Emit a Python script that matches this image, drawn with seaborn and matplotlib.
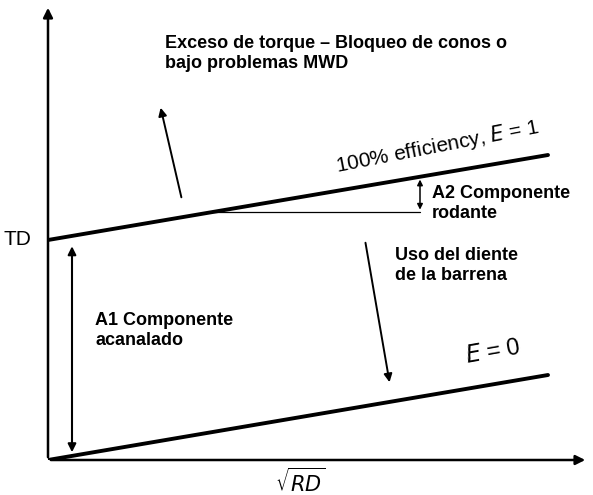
import numpy as np
import pandas as pd
import matplotlib
matplotlib.use("Agg")
import matplotlib.pyplot as plt
import seaborn as sns

# datos del diagrama (unidades arbitrarias: raiz(RD) vs TD)
rd = [0, 10]
td_e1 = [4.4, 6.1]     # 100% efficiency, E = 1
td_e0 = [0.0, 1.7]     # E = 0
td_label = 4.4

df = pd.DataFrame({
    "rd": rd * 2,
    "td": td_e1 + td_e0,
    "curva": ["E=1"] * 2 + ["E=0"] * 2,
})

sns.set_theme(style="white")
plt.rcParams['font.family'] = ['Liberation Sans', 'DejaVu Sans']
plt.rcParams['text.color'] = 'black'

fig = plt.figure(figsize=(5.93, 4.95), dpi=100)
ax = fig.add_axes([48 / 593, 35 / 495, 540 / 593, 455 / 495])
ax.set_xlim(0, 10.8)
ax.set_ylim(0, 9.1)
ax.axis('off')

sns.lineplot(data=df, x="rd", y="td", units="curva", estimator=None,
             color="black", lw=2.8, ax=ax, legend=False)

# ejes con flechas
ax.annotate("", xy=(1, 0), xytext=(0, 0), xycoords="axes fraction",
            arrowprops=dict(arrowstyle="-|>", color="black", lw=1.8, mutation_scale=14))
ax.annotate("", xy=(0, 1), xytext=(0, 0), xycoords="axes fraction",
            arrowprops=dict(arrowstyle="-|>", color="black", lw=1.8, mutation_scale=14))

slope = (td_e1[1] - td_e1[0]) / (rd[1] - rd[0])
x_a, x_b = 3.24, 7.44
y_h = td_e1[0] + slope * x_a
ax.plot([x_a, x_b], [y_h, y_h], color="black", lw=0.9)
ax.annotate("", xy=(x_b, td_e1[0] + slope * x_b), xytext=(x_b, y_h),
            arrowprops=dict(arrowstyle="<|-|>", color="black", lw=1.1, mutation_scale=8))
ax.annotate("", xy=(0.48, 4.33), xytext=(0.48, 0.1),
            arrowprops=dict(arrowstyle="<|-|>", color="black", lw=1.5, mutation_scale=12))
ax.annotate("", xy=(2.24, 7.1), xytext=(2.68, 5.2),
            arrowprops=dict(arrowstyle="-|>", color="black", lw=1.4, mutation_scale=12))
ax.annotate("", xy=(6.84, 1.5), xytext=(6.34, 4.4),
            arrowprops=dict(arrowstyle="-|>", color="black", lw=1.4, mutation_scale=12))

bold = dict(fontsize=13, fontweight="bold", va="top", ha="left", linespacing=1.25)
ax.text(2.34, 8.5, "Exceso de torque – Bloqueo de conos o\nbajo problemas MWD", **bold)
ax.text(7.68, 5.5, "A2 Componente\nrodante", **bold)
ax.text(6.94, 4.26, "Uso del diente\nde la barrena", **bold)
ax.text(0.94, 2.96, "A1 Componente\nacanalado", **bold)

ax.text(7.8, 6.28, "100% efficiency, $\\mathit{E}$ = 1", fontsize=15, rotation=11,
        ha="center", va="center", rotation_mode="anchor")
ax.text(8.9, 2.15, "$\\mathit{E}$ = 0", fontsize=17, rotation=10,
        ha="center", va="center", rotation_mode="anchor")
ax.text(-0.88, td_label, "TD", fontsize=15, ha="left", va="center")
ax.text(5.04, -0.44, "$\\sqrt{RD}$", fontsize=15, ha="center", va="center")

fig.savefig("out.png", dpi=100)
